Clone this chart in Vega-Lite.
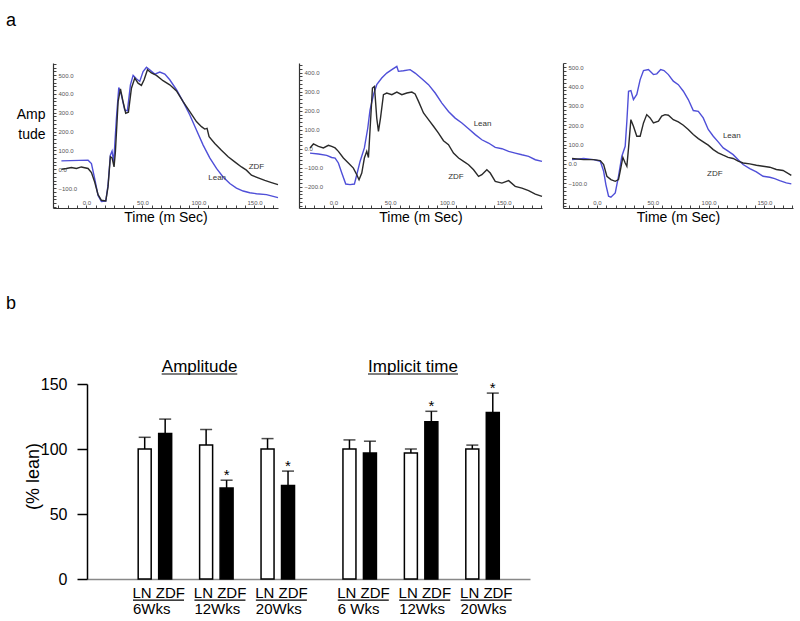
{
"$schema": "https://vega.github.io/schema/vega-lite/v6.json",
"background": "white",
"padding": {"left": 6, "top": 11, "right": 5, "bottom": 3},
"bounds": "flush",
"spacing": 321,
"config": {"font": "Liberation Sans", "view": {"stroke": null}, "axis": {"grid": false, "labelFont": "Liberation Sans", "titleFont": "Liberation Sans"}, "title": {"font": "Liberation Sans"}},
"datasets": {
"trace1": [
{"series":"Lean","t":-22.3,"amp":44},{"series":"Lean","t":1.5,"amp":48},{"series":"Lean","t":4.5,"amp":30},{"series":"Lean","t":7.4,"amp":-50},{"series":"Lean","t":10.4,"amp":-139},{"series":"Lean","t":13.4,"amp":-171},{"series":"Lean","t":17.3,"amp":-169},{"series":"Lean","t":19.3,"amp":-85},{"series":"Lean","t":21.4,"amp":75},{"series":"Lean","t":22.9,"amp":96},{"series":"Lean","t":24.4,"amp":39},{"series":"Lean","t":26.8,"amp":270},{"series":"Lean","t":28.9,"amp":434},{"series":"Lean","t":31.2,"amp":395},{"series":"Lean","t":34.2,"amp":315},{"series":"Lean","t":36.6,"amp":310},{"series":"Lean","t":39.3,"amp":448},{"series":"Lean","t":41.7,"amp":498},{"series":"Lean","t":44.6,"amp":480},{"series":"Lean","t":47.6,"amp":466},{"series":"Lean","t":50.6,"amp":519},{"series":"Lean","t":53.6,"amp":541},{"series":"Lean","t":56.5,"amp":528},{"series":"Lean","t":61,"amp":505},{"series":"Lean","t":65.5,"amp":516},{"series":"Lean","t":70,"amp":505},{"series":"Lean","t":74.4,"amp":475},{"series":"Lean","t":80.4,"amp":422},{"series":"Lean","t":86.3,"amp":359},{"series":"Lean","t":92.3,"amp":288},{"series":"Lean","t":98.2,"amp":208},{"series":"Lean","t":104.2,"amp":128},{"series":"Lean","t":110.1,"amp":60},{"series":"Lean","t":116.1,"amp":4},{"series":"Lean","t":122,"amp":-41},{"series":"Lean","t":128,"amp":-76},{"series":"Lean","t":133.9,"amp":-100},{"series":"Lean","t":139.9,"amp":-116},{"series":"Lean","t":145.8,"amp":-125},{"series":"Lean","t":151.8,"amp":-130},{"series":"Lean","t":160.7,"amp":-135},{"series":"Lean","t":171,"amp":-151},
{"series":"ZDF","t":-22.3,"amp":0},{"series":"ZDF","t":-17.9,"amp":4},{"series":"ZDF","t":-13.4,"amp":9},{"series":"ZDF","t":-8.9,"amp":4},{"series":"ZDF","t":-4.5,"amp":12},{"series":"ZDF","t":1.5,"amp":4},{"series":"ZDF","t":4.5,"amp":-18},{"series":"ZDF","t":7.4,"amp":-68},{"series":"ZDF","t":10.4,"amp":-135},{"series":"ZDF","t":13.4,"amp":-165},{"series":"ZDF","t":17.3,"amp":-169},{"series":"ZDF","t":19.3,"amp":-94},{"series":"ZDF","t":21.4,"amp":66},{"series":"ZDF","t":22.9,"amp":60},{"series":"ZDF","t":24.7,"amp":12},{"series":"ZDF","t":25.9,"amp":93},{"series":"ZDF","t":28.3,"amp":359},{"series":"ZDF","t":30.4,"amp":427},{"series":"ZDF","t":32.7,"amp":359},{"series":"ZDF","t":35.1,"amp":297},{"series":"ZDF","t":37.5,"amp":302},{"series":"ZDF","t":40.2,"amp":430},{"series":"ZDF","t":43.2,"amp":484},{"series":"ZDF","t":46.1,"amp":457},{"series":"ZDF","t":49.1,"amp":445},{"series":"ZDF","t":51.5,"amp":475},{"series":"ZDF","t":54.5,"amp":528},{"series":"ZDF","t":58,"amp":511},{"series":"ZDF","t":62.5,"amp":498},{"series":"ZDF","t":68.4,"amp":470},{"series":"ZDF","t":74.4,"amp":448},{"series":"ZDF","t":80.4,"amp":416},{"series":"ZDF","t":86.3,"amp":359},{"series":"ZDF","t":92.3,"amp":306},{"series":"ZDF","t":98.2,"amp":253},{"series":"ZDF","t":102.7,"amp":226},{"series":"ZDF","t":105.6,"amp":213},{"series":"ZDF","t":107.7,"amp":217},{"series":"ZDF","t":109.5,"amp":173},{"series":"ZDF","t":114.6,"amp":137},{"series":"ZDF","t":120.5,"amp":101},{"series":"ZDF","t":126.5,"amp":66},{"series":"ZDF","t":132.4,"amp":39},{"series":"ZDF","t":138.4,"amp":12},{"series":"ZDF","t":142.8,"amp":-5},{"series":"ZDF","t":147.3,"amp":-32},{"series":"ZDF","t":153.3,"amp":-46},{"series":"ZDF","t":159.2,"amp":-59},{"series":"ZDF","t":165.2,"amp":-71},{"series":"ZDF","t":171,"amp":-82}
],
"labels1": [{"t":151.8,"amp":12,"label":"ZDF"},{"t":116.7,"amp":-46,"label":"Lean"}],
"trace2": [
{"series":"Lean","t":-20.6,"amp":-23},{"series":"Lean","t":-13.2,"amp":-28},{"series":"Lean","t":-5.9,"amp":-35},{"series":"Lean","t":-1.5,"amp":-46},{"series":"Lean","t":1.5,"amp":-49},{"series":"Lean","t":4.4,"amp":-75},{"series":"Lean","t":7.4,"amp":-128},{"series":"Lean","t":10.9,"amp":-186},{"series":"Lean","t":14.7,"amp":-189},{"series":"Lean","t":18.5,"amp":-186},{"series":"Lean","t":20.6,"amp":-137},{"series":"Lean","t":23.5,"amp":-67},{"series":"Lean","t":27.3,"amp":4},{"series":"Lean","t":30.3,"amp":109},{"series":"Lean","t":32.3,"amp":205},{"series":"Lean","t":35.3,"amp":284},{"series":"Lean","t":38.2,"amp":337},{"series":"Lean","t":42.6,"amp":372},{"series":"Lean","t":47,"amp":398},{"series":"Lean","t":51.5,"amp":416},{"series":"Lean","t":55.9,"amp":433},{"series":"Lean","t":57.3,"amp":407},{"series":"Lean","t":61.7,"amp":410},{"series":"Lean","t":67.6,"amp":416},{"series":"Lean","t":72,"amp":398},{"series":"Lean","t":77.9,"amp":368},{"series":"Lean","t":83.8,"amp":337},{"series":"Lean","t":89.7,"amp":293},{"series":"Lean","t":95.6,"amp":240},{"series":"Lean","t":101.4,"amp":196},{"series":"Lean","t":107.3,"amp":161},{"series":"Lean","t":113.2,"amp":135},{"series":"Lean","t":119.1,"amp":105},{"series":"Lean","t":125,"amp":74},{"series":"Lean","t":130.8,"amp":47},{"series":"Lean","t":136.7,"amp":30},{"series":"Lean","t":142.6,"amp":7},{"series":"Lean","t":148.5,"amp":0},{"series":"Lean","t":154.4,"amp":-14},{"series":"Lean","t":160.2,"amp":-23},{"series":"Lean","t":166.1,"amp":-32},{"series":"Lean","t":172,"amp":-40},{"series":"Lean","t":177.9,"amp":-58},{"series":"Lean","t":183.8,"amp":-67},
{"series":"ZDF","t":-20.6,"amp":4},{"series":"ZDF","t":-17.6,"amp":25},{"series":"ZDF","t":-13.2,"amp":12},{"series":"ZDF","t":-8.8,"amp":4},{"series":"ZDF","t":-4.4,"amp":18},{"series":"ZDF","t":-1.5,"amp":12},{"series":"ZDF","t":1.5,"amp":4},{"series":"ZDF","t":4.4,"amp":-14},{"series":"ZDF","t":8.8,"amp":-49},{"series":"ZDF","t":13.2,"amp":-75},{"series":"ZDF","t":17.6,"amp":-102},{"series":"ZDF","t":20.6,"amp":-137},{"series":"ZDF","t":22.6,"amp":-163},{"series":"ZDF","t":25,"amp":-128},{"series":"ZDF","t":27.3,"amp":-49},{"series":"ZDF","t":29.4,"amp":-14},{"series":"ZDF","t":30.9,"amp":-46},{"series":"ZDF","t":32.3,"amp":100},{"series":"ZDF","t":34.4,"amp":319},{"series":"ZDF","t":36.2,"amp":328},{"series":"ZDF","t":38.2,"amp":161},{"series":"ZDF","t":39.7,"amp":91},{"series":"ZDF","t":41.5,"amp":161},{"series":"ZDF","t":44.1,"amp":284},{"series":"ZDF","t":47,"amp":293},{"series":"ZDF","t":51.5,"amp":284},{"series":"ZDF","t":55.9,"amp":298},{"series":"ZDF","t":60.3,"amp":284},{"series":"ZDF","t":64.7,"amp":293},{"series":"ZDF","t":69.1,"amp":298},{"series":"ZDF","t":72,"amp":288},{"series":"ZDF","t":75,"amp":249},{"series":"ZDF","t":79.4,"amp":188},{"series":"ZDF","t":83.8,"amp":153},{"series":"ZDF","t":88.2,"amp":118},{"series":"ZDF","t":92.6,"amp":82},{"series":"ZDF","t":97,"amp":42},{"series":"ZDF","t":101.4,"amp":21},{"series":"ZDF","t":105.8,"amp":-23},{"series":"ZDF","t":110.3,"amp":-49},{"series":"ZDF","t":114.7,"amp":-67},{"series":"ZDF","t":119.1,"amp":-84},{"series":"ZDF","t":123.5,"amp":-111},{"series":"ZDF","t":127.9,"amp":-146},{"series":"ZDF","t":130.8,"amp":-137},{"series":"ZDF","t":135.2,"amp":-111},{"series":"ZDF","t":138.2,"amp":-128},{"series":"ZDF","t":142.6,"amp":-172},{"series":"ZDF","t":148.5,"amp":-181},{"series":"ZDF","t":154.4,"amp":-168},{"series":"ZDF","t":160.2,"amp":-198},{"series":"ZDF","t":166.1,"amp":-207},{"series":"ZDF","t":172,"amp":-221},{"series":"ZDF","t":177.9,"amp":-239},{"series":"ZDF","t":183.8,"amp":-251}
],
"labels2": [{"t":131.4,"amp":130,"label":"Lean"},{"t":108,"amp":-151,"label":"ZDF"}],
"trace3": [
{"series":"Lean","t":-22.3,"amp":22},{"series":"Lean","t":-11.9,"amp":28},{"series":"Lean","t":-3,"amp":22},{"series":"Lean","t":3,"amp":14},{"series":"Lean","t":6,"amp":-38},{"series":"Lean","t":8,"amp":-107},{"series":"Lean","t":10.4,"amp":-167},{"series":"Lean","t":12.5,"amp":-172},{"series":"Lean","t":16.4,"amp":-150},{"series":"Lean","t":19.3,"amp":-64},{"series":"Lean","t":22.3,"amp":40},{"series":"Lean","t":25.3,"amp":91},{"series":"Lean","t":26.8,"amp":221},{"series":"Lean","t":28.3,"amp":376},{"series":"Lean","t":30.4,"amp":379},{"series":"Lean","t":32.7,"amp":333},{"series":"Lean","t":35.7,"amp":359},{"series":"Lean","t":38.7,"amp":436},{"series":"Lean","t":41.7,"amp":483},{"series":"Lean","t":46.1,"amp":488},{"series":"Lean","t":50.6,"amp":462},{"series":"Lean","t":53.6,"amp":466},{"series":"Lean","t":57.1,"amp":488},{"series":"Lean","t":60.1,"amp":483},{"series":"Lean","t":64,"amp":462},{"series":"Lean","t":68.4,"amp":428},{"series":"Lean","t":72.9,"amp":410},{"series":"Lean","t":77.4,"amp":376},{"series":"Lean","t":81.8,"amp":333},{"series":"Lean","t":86.3,"amp":276},{"series":"Lean","t":90.8,"amp":272},{"series":"Lean","t":95.2,"amp":238},{"series":"Lean","t":99.7,"amp":178},{"series":"Lean","t":104.2,"amp":143},{"series":"Lean","t":108.6,"amp":114},{"series":"Lean","t":113.1,"amp":83},{"series":"Lean","t":117.5,"amp":66},{"series":"Lean","t":122,"amp":48},{"series":"Lean","t":126.5,"amp":22},{"series":"Lean","t":130.9,"amp":-3},{"series":"Lean","t":136.9,"amp":-24},{"series":"Lean","t":142.8,"amp":-41},{"series":"Lean","t":148.8,"amp":-64},{"series":"Lean","t":154.8,"amp":-69},{"series":"Lean","t":159.2,"amp":-76},{"series":"Lean","t":163.7,"amp":-86},{"series":"Lean","t":169.6,"amp":-98},{"series":"Lean","t":174.1,"amp":-103},
{"series":"ZDF","t":-22.3,"amp":28},{"series":"ZDF","t":-11.9,"amp":22},{"series":"ZDF","t":-3,"amp":22},{"series":"ZDF","t":3,"amp":17},{"series":"ZDF","t":6,"amp":-3},{"series":"ZDF","t":8.9,"amp":-64},{"series":"ZDF","t":12.5,"amp":-81},{"series":"ZDF","t":16.4,"amp":-90},{"series":"ZDF","t":19.3,"amp":-81},{"series":"ZDF","t":20.8,"amp":-38},{"series":"ZDF","t":23.2,"amp":34},{"series":"ZDF","t":25.3,"amp":5},{"series":"ZDF","t":26.8,"amp":-12},{"series":"ZDF","t":28.3,"amp":83},{"series":"ZDF","t":30.4,"amp":229},{"series":"ZDF","t":32.7,"amp":195},{"series":"ZDF","t":35.7,"amp":143},{"series":"ZDF","t":38.7,"amp":143},{"series":"ZDF","t":41.7,"amp":212},{"series":"ZDF","t":44.6,"amp":255},{"series":"ZDF","t":47.6,"amp":238},{"series":"ZDF","t":50.6,"amp":212},{"series":"ZDF","t":55.1,"amp":221},{"series":"ZDF","t":58,"amp":247},{"series":"ZDF","t":61,"amp":255},{"series":"ZDF","t":64,"amp":252},{"series":"ZDF","t":68.4,"amp":229},{"series":"ZDF","t":72.9,"amp":217},{"series":"ZDF","t":77.4,"amp":200},{"series":"ZDF","t":81.8,"amp":178},{"series":"ZDF","t":86.3,"amp":152},{"series":"ZDF","t":90.8,"amp":131},{"series":"ZDF","t":95.2,"amp":114},{"series":"ZDF","t":99.7,"amp":97},{"series":"ZDF","t":104.2,"amp":74},{"series":"ZDF","t":108.6,"amp":57},{"series":"ZDF","t":113.1,"amp":45},{"series":"ZDF","t":117.5,"amp":34},{"series":"ZDF","t":122,"amp":28},{"series":"ZDF","t":126.5,"amp":14},{"series":"ZDF","t":130.9,"amp":5},{"series":"ZDF","t":136.9,"amp":0},{"series":"ZDF","t":142.8,"amp":-7},{"series":"ZDF","t":148.8,"amp":-12},{"series":"ZDF","t":154.8,"amp":-17},{"series":"ZDF","t":160.7,"amp":-29},{"series":"ZDF","t":166.7,"amp":-34},{"series":"ZDF","t":174.1,"amp":-59}
],
"labels3": [{"t":120.8,"amp":143,"label":"Lean"},{"t":105.6,"amp":-52,"label":"ZDF"}],
"bars": [
{"bar":"A6LN","group":"LN","mean":100,"upper":109,"sig":""},
{"bar":"A6ZDF","group":"ZDF","mean":112,"upper":123,"sig":""},
{"bar":"A12LN","group":"LN","mean":103,"upper":115,"sig":""},
{"bar":"A12ZDF","group":"ZDF","mean":70,"upper":76,"sig":"*"},
{"bar":"A20LN","group":"LN","mean":100,"upper":108,"sig":""},
{"bar":"A20ZDF","group":"ZDF","mean":72,"upper":83,"sig":"*"},
{"bar":"I6LN","group":"LN","mean":100,"upper":107,"sig":""},
{"bar":"I6ZDF","group":"ZDF","mean":97,"upper":106,"sig":""},
{"bar":"I12LN","group":"LN","mean":97,"upper":100,"sig":""},
{"bar":"I12ZDF","group":"ZDF","mean":121,"upper":129,"sig":"*"},
{"bar":"I20LN","group":"LN","mean":100,"upper":103,"sig":""},
{"bar":"I20ZDF","group":"ZDF","mean":128,"upper":143,"sig":"*"}
],
"pairs": [
{"ln":"A6LN","zdf":"A6ZDF","pair":"LN ZDF","week":"6Wks"},
{"ln":"A12LN","zdf":"A12ZDF","pair":"LN ZDF","week":"12Wks"},
{"ln":"A20LN","zdf":"A20ZDF","pair":"LN ZDF","week":"20Wks"},
{"ln":"I6LN","zdf":"I6ZDF","pair":"LN ZDF","week":"6 Wks"},
{"ln":"I12LN","zdf":"I12ZDF","pair":"LN ZDF","week":"12Wks"},
{"ln":"I20LN","zdf":"I20ZDF","pair":"LN ZDF","week":"20Wks"}
],
"heads": [{"measure":"Amplitude"},{"measure":"Implicit time"}]
},
"vconcat": [
{
"title": {"text": "a", "anchor": "start", "frame": "group", "orient": "top", "fontSize": 18, "fontWeight": "normal", "baseline": "alphabetic", "dx": -47, "offset": 19},
"bounds": "flush",
"spacing": 21,
"hconcat": [
{
"width": 225, "height": 145,
"layer": [
{"data": {"name": "trace1"}, "mark": {"type": "line", "strokeWidth": 1.4},
"encoding": {
"x": {"field": "t", "type": "quantitative", "scale": {"domain": [-29.8, 171], "nice": false, "zero": false},
"axis": {"title": "Time (m Sec)", "titleFontSize": 14, "titleFontWeight": "normal", "titleColor": "#000", "titleBaseline": "top", "titleY": 2, "tickCount": 200,
"values": [-25,-16.667,-8.333,0,8.333,16.667,25,33.333,41.667,50,58.333,66.667,75,83.333,91.667,100,108.333,116.667,125,133.333,141.667,150,158.333,166.667],
"labelExpr": "abs(datum.value % 50) < 0.01 ? format(datum.value, '.1f') : ''", "labelFontSize": {"condition": {"test": "abs(datum.value % 50) >= 0.01", "value": 0}, "value": 6}, "labelColor": "#555", "labelBaseline": "bottom", "labelAlign": "center", "labelPadding": 0, "labelFlush": false, "labelOverlap": false,
"tickSize": -3, "tickColor": "#444", "tickWidth": 1, "domainColor": "#333", "domainWidth": 1.2}},
"y": {"field": "amp", "type": "quantitative", "scale": {"domain": [-206, 564], "nice": false, "zero": false},
"axis": {"title": ["Amp", "tude"], "titleAngle": 0, "titleAlign": "right", "titleBaseline": "middle", "titleX": -8, "titleY": 51, "titleFontSize": 14, "titleFontWeight": "normal", "titleLineHeight": 20, "titleColor": "#000", "tickCount": 200,
"values": [-200,-180,-160,-140,-120,-100,-80,-60,-40,-20,0,20,40,60,80,100,120,140,160,180,200,220,240,260,280,300,320,340,360,380,400,420,440,460,480,500,520,540,560],
"labelExpr": "datum.value % 100 === 0 && datum.value > -200 ? format(datum.value, '.1f') : ''", "labelFontSize": {"condition": {"test": "datum.value % 100 !== 0 || datum.value <= -200", "value": 0}, "value": 6}, "labelColor": "#555", "labelAlign": "left", "labelBaseline": "middle", "labelPadding": -2, "labelFlush": false, "labelOverlap": false,
"tickSize": -3, "tickColor": "#444", "tickWidth": 1, "domainColor": "#333", "domainWidth": 1.2}},
"stroke": {"field": "series", "type": "nominal", "scale": {"domain": ["ZDF", "Lean"], "range": ["#2a2a2a", "#4f4fd8"]}, "legend": null}
}},
{"data": {"name": "labels1"}, "mark": {"type": "text", "fontSize": 8, "fill": "#333"},
"encoding": {"x": {"field": "t", "type": "quantitative"}, "y": {"field": "amp", "type": "quantitative"}, "text": {"field": "label"}}}
]
},
{
"width": 243, "height": 145,
"layer": [
{"data": {"name": "trace2"}, "mark": {"type": "line", "strokeWidth": 1.4},
"encoding": {
"x": {"field": "t", "type": "quantitative", "scale": {"domain": [-30.3, 183.8], "nice": false, "zero": false},
"axis": {"title": "Time (m Sec)", "titleFontSize": 14, "titleFontWeight": "normal", "titleColor": "#000", "titleBaseline": "top", "titleY": 2, "tickCount": 200,
"values": [-25,-16.667,-8.333,0,8.333,16.667,25,33.333,41.667,50,58.333,66.667,75,83.333,91.667,100,108.333,116.667,125,133.333,141.667,150,158.333,166.667,175,183.333],
"labelExpr": "abs(datum.value % 50) < 0.01 ? format(datum.value, '.1f') : ''", "labelFontSize": {"condition": {"test": "abs(datum.value % 50) >= 0.01", "value": 0}, "value": 6}, "labelColor": "#555", "labelBaseline": "bottom", "labelAlign": "center", "labelPadding": 0, "labelFlush": false, "labelOverlap": false,
"tickSize": -3, "tickColor": "#444", "tickWidth": 1, "domainColor": "#333", "domainWidth": 1.2}},
"y": {"field": "amp", "type": "quantitative", "scale": {"domain": [-312, 451], "nice": false, "zero": false},
"axis": {"title": null, "tickCount": 200,
"values": [-300,-280,-260,-240,-220,-200,-180,-160,-140,-120,-100,-80,-60,-40,-20,0,20,40,60,80,100,120,140,160,180,200,220,240,260,280,300,320,340,360,380,400,420,440],
"labelExpr": "datum.value % 100 === 0 && datum.value > -300 ? format(datum.value, '.1f') : ''", "labelFontSize": {"condition": {"test": "datum.value % 100 !== 0 || datum.value <= -300", "value": 0}, "value": 6}, "labelColor": "#555", "labelAlign": "left", "labelBaseline": "middle", "labelPadding": -2, "labelFlush": false, "labelOverlap": false,
"tickSize": -3, "tickColor": "#444", "tickWidth": 1, "domainColor": "#333", "domainWidth": 1.2}},
"stroke": {"field": "series", "type": "nominal", "scale": {"domain": ["ZDF", "Lean"], "range": ["#2a2a2a", "#4f4fd8"]}, "legend": null}
}},
{"data": {"name": "labels2"}, "mark": {"type": "text", "fontSize": 8, "fill": "#333"},
"encoding": {"x": {"field": "t", "type": "quantitative"}, "y": {"field": "amp", "type": "quantitative"}, "text": {"field": "label"}}}
]
},
{
"width": 230, "height": 145,
"layer": [
{"data": {"name": "trace3"}, "mark": {"type": "line", "strokeWidth": 1.4},
"encoding": {
"x": {"field": "t", "type": "quantitative", "scale": {"domain": [-30.4, 175.6], "nice": false, "zero": false},
"axis": {"title": "Time (m Sec)", "titleFontSize": 14, "titleFontWeight": "normal", "titleColor": "#000", "titleBaseline": "top", "titleY": 2, "tickCount": 200,
"values": [-25,-16.667,-8.333,0,8.333,16.667,25,33.333,41.667,50,58.333,66.667,75,83.333,91.667,100,108.333,116.667,125,133.333,141.667,150,158.333,166.667,175],
"labelExpr": "abs(datum.value % 50) < 0.01 ? format(datum.value, '.1f') : ''", "labelFontSize": {"condition": {"test": "abs(datum.value % 50) >= 0.01", "value": 0}, "value": 6}, "labelColor": "#555", "labelBaseline": "bottom", "labelAlign": "center", "labelPadding": 0, "labelFlush": false, "labelOverlap": false,
"tickSize": -3, "tickColor": "#444", "tickWidth": 1, "domainColor": "#333", "domainWidth": 1.2}},
"y": {"field": "amp", "type": "quantitative", "scale": {"domain": [-228, 522], "nice": false, "zero": false},
"axis": {"title": null, "tickCount": 200,
"values": [-220,-200,-180,-160,-140,-120,-100,-80,-60,-40,-20,0,20,40,60,80,100,120,140,160,180,200,220,240,260,280,300,320,340,360,380,400,420,440,460,480,500,520],
"labelExpr": "datum.value % 100 === 0 && datum.value > -200 ? format(datum.value, '.1f') : ''", "labelFontSize": {"condition": {"test": "datum.value % 100 !== 0 || datum.value <= -200", "value": 0}, "value": 6}, "labelColor": "#555", "labelAlign": "left", "labelBaseline": "middle", "labelPadding": -2, "labelFlush": false, "labelOverlap": false,
"tickSize": -3, "tickColor": "#444", "tickWidth": 1, "domainColor": "#333", "domainWidth": 1.2}},
"stroke": {"field": "series", "type": "nominal", "scale": {"domain": ["ZDF", "Lean"], "range": ["#2a2a2a", "#4f4fd8"]}, "legend": null}
}},
{"data": {"name": "labels3"}, "mark": {"type": "text", "fontSize": 8, "fill": "#333"},
"encoding": {"x": {"field": "t", "type": "quantitative"}, "y": {"field": "amp", "type": "quantitative"}, "text": {"field": "label"}}}
]
}
]
},
{
"title": {"text": "b", "anchor": "start", "frame": "group", "orient": "top", "fontSize": 18, "fontWeight": "normal", "baseline": "alphabetic", "dx": -47, "offset": 31},
"bounds": "flush",
"spacing": 0,
"hconcat": [
{"width": 34, "height": 195, "data": {"values": []}, "mark": "point"},
{
"width": 443, "height": 195,
"layer": [
{"data": {"name": "bars"}, "mark": {"type": "bar", "stroke": "black", "strokeWidth": 1.5},
"encoding": {
"x": {"field": "bar", "type": "nominal", "title": null,
"scale": {"type": "band", "domain": ["e1","e2","A6LN","A6ZDF","s1","A12LN","A12ZDF","s2","A20LN","A20ZDF","s3","s4","I6LN","I6ZDF","s5","I12LN","I12ZDF","s6","I20LN","I20ZDF","e3"], "paddingInner": 0.365, "paddingOuter": 0.5, "align": 0.5},
"axis": {"labels": false, "ticks": false, "title": null, "domainColor": "#888", "domainWidth": 1.5}},
"y": {"field": "mean", "type": "quantitative", "title": "(% lean)", "scale": {"domain": [0, 150], "nice": false},
"axis": {"values": [0, 50, 100, 150], "title": "(% lean)", "titleFontSize": 18, "titleFontWeight": "normal", "titleColor": "#000", "titleAngle": -90, "titleAlign": "center", "titleBaseline": "middle", "titleX": -54, "titleY": 92,
"labelFontSize": 16, "labelColor": "#000", "labelPadding": 10, "tickSize": 10, "tickWidth": 1.5, "tickColor": "#000", "domainColor": "#000", "domainWidth": 1.5}},
"fill": {"field": "group", "type": "nominal", "scale": {"domain": ["LN", "ZDF"], "range": ["white", "black"]}, "legend": null}
}},
{"data": {"name": "bars"}, "mark": {"type": "rule", "strokeWidth": 1.5, "color": "black"},
"encoding": {"x": {"field": "bar", "type": "nominal", "title": null}, "y": {"field": "mean", "type": "quantitative", "title": "(% lean)"}, "y2": {"field": "upper"}}},
{"data": {"name": "bars"}, "mark": {"type": "tick", "thickness": 1.5, "size": 12, "color": "black"},
"encoding": {"x": {"field": "bar", "type": "nominal", "title": null}, "y": {"field": "upper", "type": "quantitative", "title": "(% lean)"}}},
{"data": {"name": "bars"}, "mark": {"type": "text", "fontSize": 15, "baseline": "alphabetic", "fill": "#000"},
"encoding": {"x": {"field": "bar", "type": "nominal", "title": null}, "y": {"field": "upper", "type": "quantitative", "title": "(% lean)"}, "text": {"field": "sig"}}},
{"data": {"name": "pairs"}, "mark": {"type": "text", "fontSize": 15, "align": "center", "baseline": "alphabetic", "fill": "#000"},
"encoding": {"x": {"field": "zdf", "type": "nominal", "bandPosition": 0, "title": null}, "y": {"datum": -14.6, "title": "(% lean)"}, "text": {"field": "pair"}}},
{"data": {"name": "pairs"}, "mark": {"type": "rule", "strokeWidth": 1.2, "color": "black"},
"encoding": {"x": {"field": "ln", "type": "nominal", "bandPosition": -0.4, "title": null}, "x2": {"field": "zdf", "bandPosition": 1.95}, "y": {"datum": -16.2, "title": "(% lean)"}}},
{"data": {"name": "pairs"}, "mark": {"type": "text", "fontSize": 15, "align": "left", "baseline": "alphabetic", "fill": "#000"},
"encoding": {"x": {"field": "ln", "type": "nominal", "bandPosition": -0.4, "title": null}, "y": {"datum": -26.9, "title": "(% lean)"}, "text": {"field": "week"}}},
{"data": {"name": "heads"}, "transform": [{"filter": "datum.measure === 'Amplitude'"}], "mark": {"type": "text", "fontSize": 17, "align": "center", "baseline": "alphabetic", "fill": "#000"},
"encoding": {"x": {"datum": "A12LN", "bandPosition": 0, "title": null}, "y": {"datum": 159.2, "title": "(% lean)"}, "text": {"field": "measure"}}},
{"data": {"name": "heads"}, "transform": [{"filter": "datum.measure === 'Amplitude'"}], "mark": {"type": "rule", "strokeWidth": 1.2, "color": "black"},
"encoding": {"x": {"datum": "A6ZDF", "bandPosition": 0.23, "title": null}, "x2": {"datum": "A12ZDF", "bandPosition": 1.32}, "y": {"datum": 157.7, "title": "(% lean)"}}},
{"data": {"name": "heads"}, "transform": [{"filter": "datum.measure === 'Implicit time'"}], "mark": {"type": "text", "fontSize": 17, "align": "center", "baseline": "alphabetic", "fill": "#000"},
"encoding": {"x": {"datum": "I12LN", "bandPosition": 0.66, "title": null}, "y": {"datum": 159.2, "title": "(% lean)"}, "text": {"field": "measure"}}},
{"data": {"name": "heads"}, "transform": [{"filter": "datum.measure === 'Implicit time'"}], "mark": {"type": "rule", "strokeWidth": 1.2, "color": "black"},
"encoding": {"x": {"datum": "I6ZDF", "bandPosition": 0.35, "title": null}, "x2": {"datum": "I12ZDF", "bandPosition": 2.55}, "y": {"datum": 157.7, "title": "(% lean)"}}}
]
}
]
}
]
}
